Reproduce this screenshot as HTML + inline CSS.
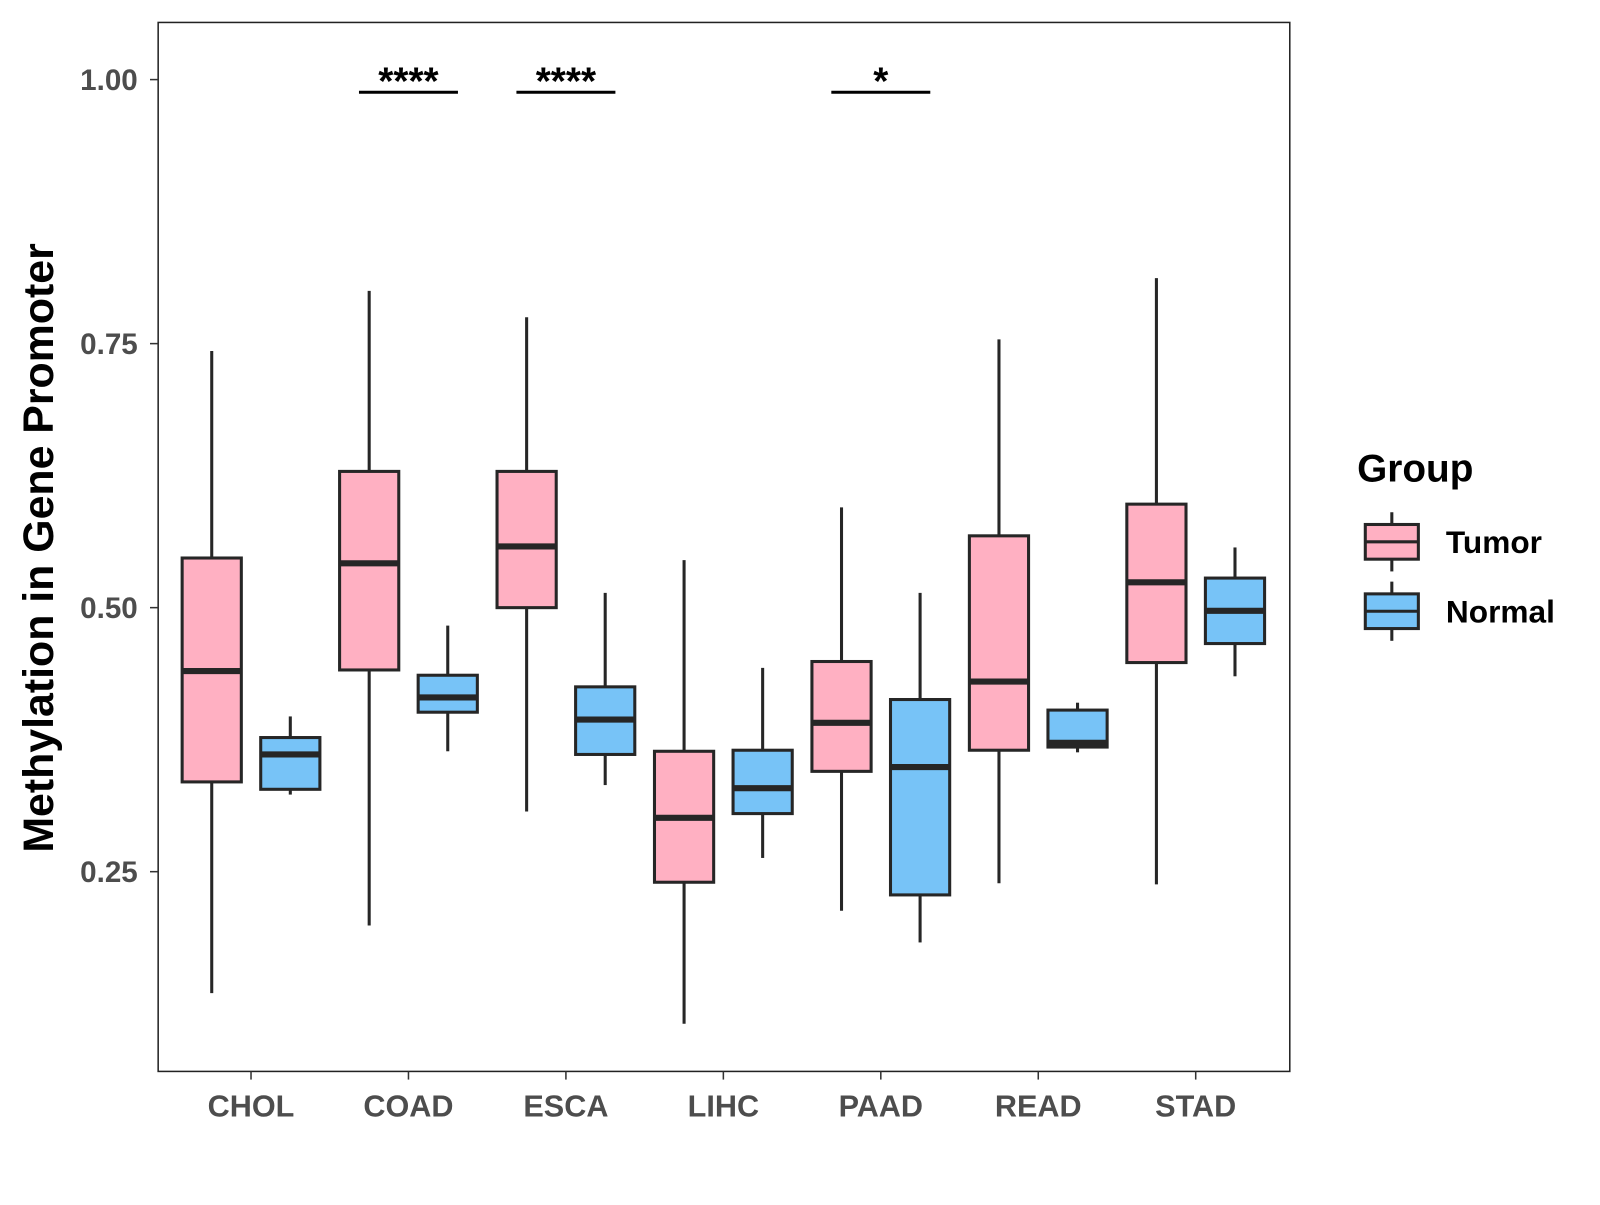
<!DOCTYPE html>
<html><head><meta charset="utf-8"><style>
html,body{margin:0;padding:0;background:#fff;}
svg text{font-family:"Liberation Sans",Arial,sans-serif;font-weight:bold;}
</style></head><body>
<svg width="1600" height="1200" xmlns="http://www.w3.org/2000/svg"><g id="chart" transform="scale(1.0204)"></g></svg>
<script>
const categories=["CHOL","COAD","ESCA","LIHC","PAAD","READ","STAD"];
const groups=["Tumor","Normal"];
const tumorStats=[
[0.135,0.335,0.440,0.547,0.743],
[0.199,0.441,0.542,0.629,0.800],
[0.307,0.500,0.558,0.629,0.775],
[0.106,0.240,0.301,0.364,0.545],
[0.213,0.345,0.391,0.449,0.595],
[0.239,0.365,0.430,0.568,0.754],
[0.238,0.448,0.524,0.598,0.812]];
const normalStats=[
[0.323,0.328,0.361,0.377,0.397],
[0.364,0.401,0.415,0.436,0.483],
[0.332,0.361,0.394,0.425,0.514],
[0.263,0.305,0.329,0.365,0.443],
[0.183,0.228,0.349,0.413,0.514],
[0.363,0.368,0.372,0.403,0.410],
[0.435,0.466,0.497,0.528,0.557]];
const yTicks=[0.25,0.50,0.75,1.00];
const yTickLabels=["0.25","0.50","0.75","1.00"];
const sigCats=["COAD","ESCA","PAAD"];
const sigLabels=["****","****","*"];
const sigLevel=0.988;

const svg=document.getElementById('chart');
const NS="http://www.w3.org/2000/svg";
function mk(tag,attrs,parent){const e=document.createElementNS(NS,tag);for(const k in attrs)e.setAttribute(k,attrs[k]);(parent||svg).appendChild(e);return e;}
const P={l:155,r:1264,t:22,b:1050};
const yScale=v=>78+(1-v)*1035;
const xScale=i=>246+i*154.3;
const LC="#262626";

const panel=mk('rect',{x:P.l,y:P.t,width:P.r-P.l,height:P.b-P.t,fill:'#fff',stroke:'#222','stroke-width':1.5});



yTicks.forEach((v,i)=>{
  const y=yScale(v);
  const t=mk('line',{x1:P.l-8,x2:P.l,y1:y,y2:y,stroke:'#333','stroke-width':1.5});
  
  
  const l=mk('text',{x:P.l-20,y:y+10,'text-anchor':'end','font-size':29,fill:'#4d4d4d'});
  l.textContent=yTickLabels[i];
  
  
});
categories.forEach((c,i)=>{
  const x=xScale(i);
  const t=mk('line',{x1:x,x2:x,y1:P.b,y2:P.b+8,stroke:'#333','stroke-width':1.5});
  
  
  const l=mk('text',{x:x,y:P.b+44,'text-anchor':'middle','font-size':30,fill:'#4d4d4d'});
  l.textContent=c;
  
  
});

function box(cx,s,fill,name){
  const g=mk('g',{});
  
  
  const w=58;
  mk('line',{x1:cx,x2:cx,y1:yScale(s[0]),y2:yScale(s[1]),stroke:LC,'stroke-width':3},g);
  mk('line',{x1:cx,x2:cx,y1:yScale(s[3]),y2:yScale(s[4]),stroke:LC,'stroke-width':3},g);
  mk('rect',{x:cx-w/2,y:yScale(s[3]),width:w,height:yScale(s[1])-yScale(s[3]),fill:fill,stroke:LC,'stroke-width':3},g);
  mk('line',{x1:cx-w/2,x2:cx+w/2,y1:yScale(s[2]),y2:yScale(s[2]),stroke:LC,'stroke-width':6},g);
}
categories.forEach((c,i)=>{
  box(xScale(i)-38.5,tumorStats[i],'#FFB0C2','box-tumor-'+c.toLowerCase());
  box(xScale(i)+38.5,normalStats[i],'#77C3F7','box-normal-'+c.toLowerCase());
});
sigCats.forEach((c,k)=>{
  const i=categories.indexOf(c);
  const y=yScale(sigLevel);
  const ln=mk('line',{x1:xScale(i)-48.5,x2:xScale(i)+48.5,y1:y,y2:y,stroke:'#000','stroke-width':3});
  
  
  const t=mk('text',{x:xScale(i),y:y+2,'text-anchor':'middle','font-size':38,fill:'#000'});
  t.textContent=sigLabels[k];
  
  
});
const yt=mk('text',{x:0,y:0,'text-anchor':'middle','font-size':42,fill:'#000',transform:'translate(52,537) rotate(-90)'});
yt.textContent='Methylation in Gene Promoter';



const lt=mk('text',{x:1330,y:472,'font-size':38,fill:'#000'});
lt.textContent='Group';


const lfills=['#FFB0C2','#77C3F7'];
groups.forEach((gname,k)=>{
  const top=514+k*68;
  const g=mk('g',{});
  
  
  mk('line',{x1:1364,x2:1364,y1:top-12,y2:top+46,stroke:LC,'stroke-width':3},g);
  mk('rect',{x:1338,y:top,width:52,height:34,fill:lfills[k],stroke:LC,'stroke-width':3},g);
  mk('line',{x1:1338,x2:1390,y1:top+17,y2:top+17,stroke:LC,'stroke-width':3},g);
  const t=mk('text',{x:1417,y:top+28,'font-size':31,fill:'#000'},g);
  t.textContent=gname;
});
</script>
</body></html>
